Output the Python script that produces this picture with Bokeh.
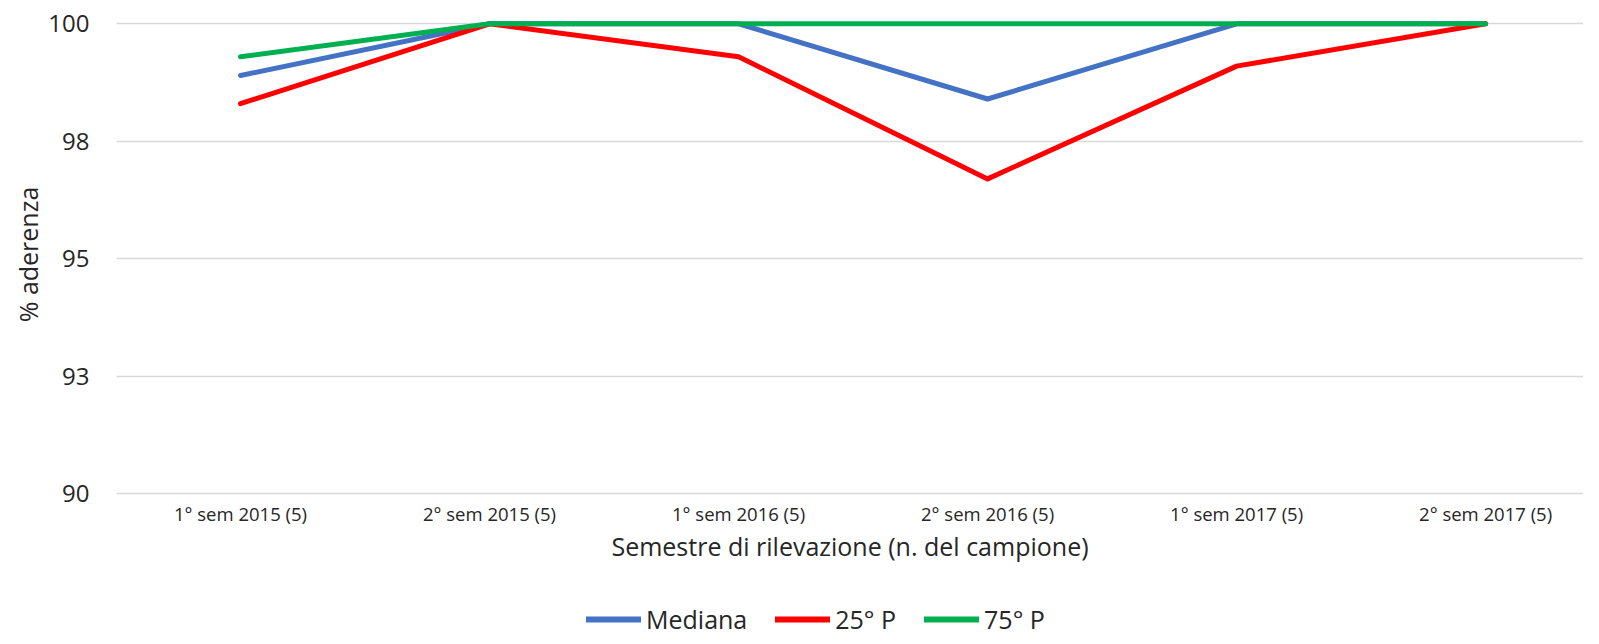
from bokeh.plotting import figure
from bokeh.layouts import column
from bokeh.models import Range1d, FixedTicker, Legend, LegendItem
from bokeh.embed import file_html
from bokeh.resources import INLINE

categories = ["1° sem 2015 (5)", "2° sem 2015 (5)", "1° sem 2016 (5)",
              "2° sem 2016 (5)", "1° sem 2017 (5)", "2° sem 2017 (5)"]
mediana = [98.9, 100, 100, 98.4, 100, 100]
p25 = [98.3, 100, 99.3, 96.7, 99.1, 100]
p75 = [99.3, 100, 100, 100, 100, 100]
y_ticks = [90, 92.5, 95, 97.5, 100]
y_tick_labels = ["90", "93", "95", "98", "100"]
series_names = ["Mediana", "25° P", "75° P"]
series_colors = ["#4472C4", "#FF0000", "#00B050"]
series_values = [mediana, p25, p75]

FONT = "Open Sans"
TXT = "#262626"

xs = list(range(len(categories)))

p = figure(width=1583, height=602, output_backend="svg", toolbar_location=None,
           title=None, x_range=Range1d(-0.498, 5.393), y_range=Range1d(89.9, 100.283),
           min_border_left=116, min_border_right=0, min_border_top=10, min_border_bottom=104)
p.outline_line_color = None
p.background_fill_color = "white"
p.border_fill_color = "white"

for vals, col in zip(series_values, series_colors):
    p.line(xs, vals, line_color=col, line_width=5, line_cap="round", line_join="round")

# axes
p.xaxis.ticker = FixedTicker(ticks=xs)
p.xaxis.major_label_overrides = {i: c for i, c in zip(xs, categories)}
p.yaxis.ticker = FixedTicker(ticks=y_ticks)
p.yaxis.major_label_overrides = {t: l for t, l in zip(y_ticks, y_tick_labels)}
for ax in (p.xaxis, p.yaxis):
    ax.axis_line_color = None
    ax.major_tick_line_color = None
    ax.minor_tick_line_color = None
    ax.major_tick_out = 0
    ax.major_tick_in = 0
    ax.major_label_text_font = FONT
    ax.major_label_text_color = TXT
    ax.axis_label_text_font = FONT
    ax.axis_label_text_color = TXT
    ax.axis_label_text_font_style = "normal"

p.xaxis.major_label_text_font_size = "18.5px"
p.xaxis.major_label_standoff = 2
p.xaxis.axis_label = "Semestre di rilevazione (n. del campione)"
p.xaxis.axis_label_text_font_size = "25px"
p.xaxis.axis_label_standoff = 0

p.yaxis.major_label_text_font_size = "24px"
p.yaxis.major_label_standoff = 27
p.yaxis.axis_label = "% aderenza"
p.yaxis.axis_label_text_font_size = "25px"
p.yaxis.axis_label_standoff = 0

p.xgrid.grid_line_color = None
p.ygrid.grid_line_color = "#d9d9d9"
p.ygrid.grid_line_width = 1.5

# legend strip below the chart (its lines fall outside its own ranges)
lg = figure(width=1583, height=34, output_backend="svg", toolbar_location=None,
            title=None, x_range=Range1d(0, 1), y_range=Range1d(0, 1), min_border=0)
lg.outline_line_color = None
lg.axis.visible = False
lg.grid.visible = False
items = []
for name, vals, col in zip(series_names, series_values, series_colors):
    r = lg.line(xs, vals, line_color=col, line_width=6, line_cap="round")
    items.append(LegendItem(label=name, renderers=[r]))

legend = Legend(items=items, orientation="horizontal", location=(470, 0))
legend.label_text_font = FONT
legend.label_text_font_size = "25px"
legend.label_text_color = TXT
legend.glyph_width = 55
legend.glyph_height = 24
legend.label_height = 24
legend.label_standoff = 5
legend.spacing = 28
legend.padding = 0
legend.margin = 0
legend.border_line_color = None
legend.background_fill_alpha = 0
lg.add_layout(legend)

layout = column(p, lg, spacing=0)
open("out.html", "w").write(file_html(layout, INLINE))
